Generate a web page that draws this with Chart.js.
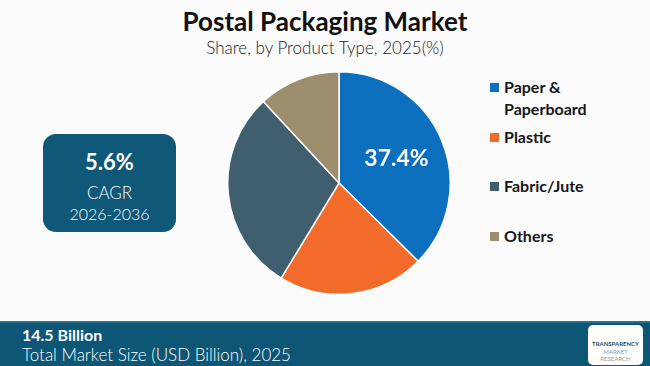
<!DOCTYPE html>
<html>
<head>
<meta charset="utf-8">
<script src="https://cdn.jsdelivr.net/npm/chart.js@4.4.1/dist/chart.umd.min.js"></script>
<style>
  html, body { margin: 0; padding: 0; background: #fbfbfb; }
  #page { position: relative; width: 650px; height: 366px; overflow: hidden; background: #fbfbfb; font-family: Lato, "Open Sans", sans-serif; }
  #title { position: absolute; left: 0; width: 650px; top: 5px; text-align: center; font-weight: 700; font-size: 26px; color: #111; }
  #subtitle { position: absolute; left: 0; width: 650px; top: 37px; text-align: center; font-size: 17px; font-weight: 300; color: #1a1a1a; }
  #pieWrap { position: absolute; left: 227px; top: 71px; width: 224px; height: 224px; }
  #legend { position: absolute; left: 490px; top: 76px; }
  .item { position: absolute; left: 0; white-space: nowrap; font-weight: 700; font-size: 16px; color: #151515; line-height: 22px; }
  .item .sw { position: absolute; left: 0; top: 7px; width: 9px; height: 9px; }
  .item .tx { position: absolute; left: 14px; top: 0; }
  #cagr { position: absolute; left: 43px; top: 134px; width: 133px; height: 98px; border-radius: 13px; background: #0f5878; color: #fff; text-align: center; }
  #cagr .v { position: absolute; top: 14px; width: 100%; font-weight: 700; font-size: 22px; }
  #cagr .l1 { position: absolute; top: 48px; width: 100%; font-size: 17px; font-weight: 300; }
  #cagr .l2 { position: absolute; top: 70px; width: 100%; font-size: 16px; font-weight: 300; }
  #footer { position: absolute; left: 0; top: 321px; width: 650px; height: 45px; background: #0d5676; border-top: 2px solid #2a6f8c; color: #fff; }
  #footer .big { position: absolute; left: 22px; top: 2px; font-weight: 700; font-size: 16px; }
  #footer .small { position: absolute; left: 22px; top: 21px; font-size: 17px; font-weight: 300; }
  #logo { position: absolute; left: 588px; top: 2px; width: 55px; height: 40px; background: #fff; border-radius: 5px; text-align: center; font-size: 6px; font-weight: 700; color: #2b4a6a; }
  #logo .a { position: absolute; top: 15px; width: 100%; }
  #logo .b { position: absolute; top: 23px; width: 100%; color: #8a9aab; font-weight: 400; }
</style>
</head>
<body>
<div id="page">
  <div id="title">Postal Packaging Market</div>
  <div id="subtitle">Share, by Product Type, 2025(%)</div>
  <div id="cagr">
    <div class="v">5.6%</div>
    <div class="l1">CAGR</div>
    <div class="l2">2026-2036</div>
  </div>
  <div id="pieWrap"><canvas id="pie"></canvas></div>
  <div id="legend"></div>
  <div id="footer">
    <div class="big">14.5 Billion</div>
    <div class="small">Total Market Size (USD Billion), 2025</div>
    <div id="logo"><div class="a">TRANSPARENCY</div><div class="b">MARKET RESEARCH</div></div>
  </div>
</div>
<script>
// Product type share, 2025 (%)
const categories = ["Paper & Paperboard", "Plastic", "Fabric/Jute", "Others"];
const legendLines = [["Paper &", "Paperboard"], ["Plastic"], ["Fabric/Jute"], ["Others"]];
const shares = [37.4, 21.3, 29.4, 11.9];
const colors = ["#0b6fbe", "#f26b2a", "#3f5f6e", "#9c8e6d"];
const shownLabels = ["37.4%", "", "", ""];

// legend built from the arrays
const legendTops = [0, 50, 99, 149];
const legend = document.getElementById("legend");
categories.forEach((cat, i) => {
  const item = document.createElement("div");
  item.className = "item";
  item.style.top = legendTops[i] + "px";
  item.innerHTML = '<span class="sw" style="background:' + colors[i] + '"></span><span class="tx">' +
    legendLines[i].join("<br>") + "</span>";
  legend.appendChild(item);
});

const sliceLabels = {
  id: "sliceLabels",
  afterDatasetsDraw(chart) {
    const ctx = chart.ctx;
    const meta = chart.getDatasetMeta(0);
    meta.data.forEach((arc, i) => {
      if (!shownLabels[i]) return;
      const p = arc.getProps(["x", "y", "startAngle", "endAngle", "outerRadius"], true);
      const mid = (p.startAngle + p.endAngle) / 2;
      const r = p.outerRadius * 0.56;
      ctx.save();
      ctx.fillStyle = "#ffffff";
      ctx.font = "700 23px Lato, 'Open Sans', sans-serif";
      ctx.textAlign = "center";
      ctx.textBaseline = "middle";
      ctx.fillText(shownLabels[i], p.x + Math.cos(mid) * r, p.y + Math.sin(mid) * r);
      ctx.restore();
    });
  },
};

new Chart(document.getElementById("pie"), {
  type: "pie",
  data: {
    labels: categories,
    datasets: [
      {
        data: shares,
        backgroundColor: colors,
        borderColor: "#ffffff",
        borderWidth: 1.5,
      },
    ],
  },
  options: {
    responsive: true,
    maintainAspectRatio: false,
    animation: false,
    layout: { padding: 0 },
    plugins: {
      legend: { display: false },
      tooltip: { enabled: false },
    },
  },
  plugins: [sliceLabels],
});
</script>
</body>
</html>
